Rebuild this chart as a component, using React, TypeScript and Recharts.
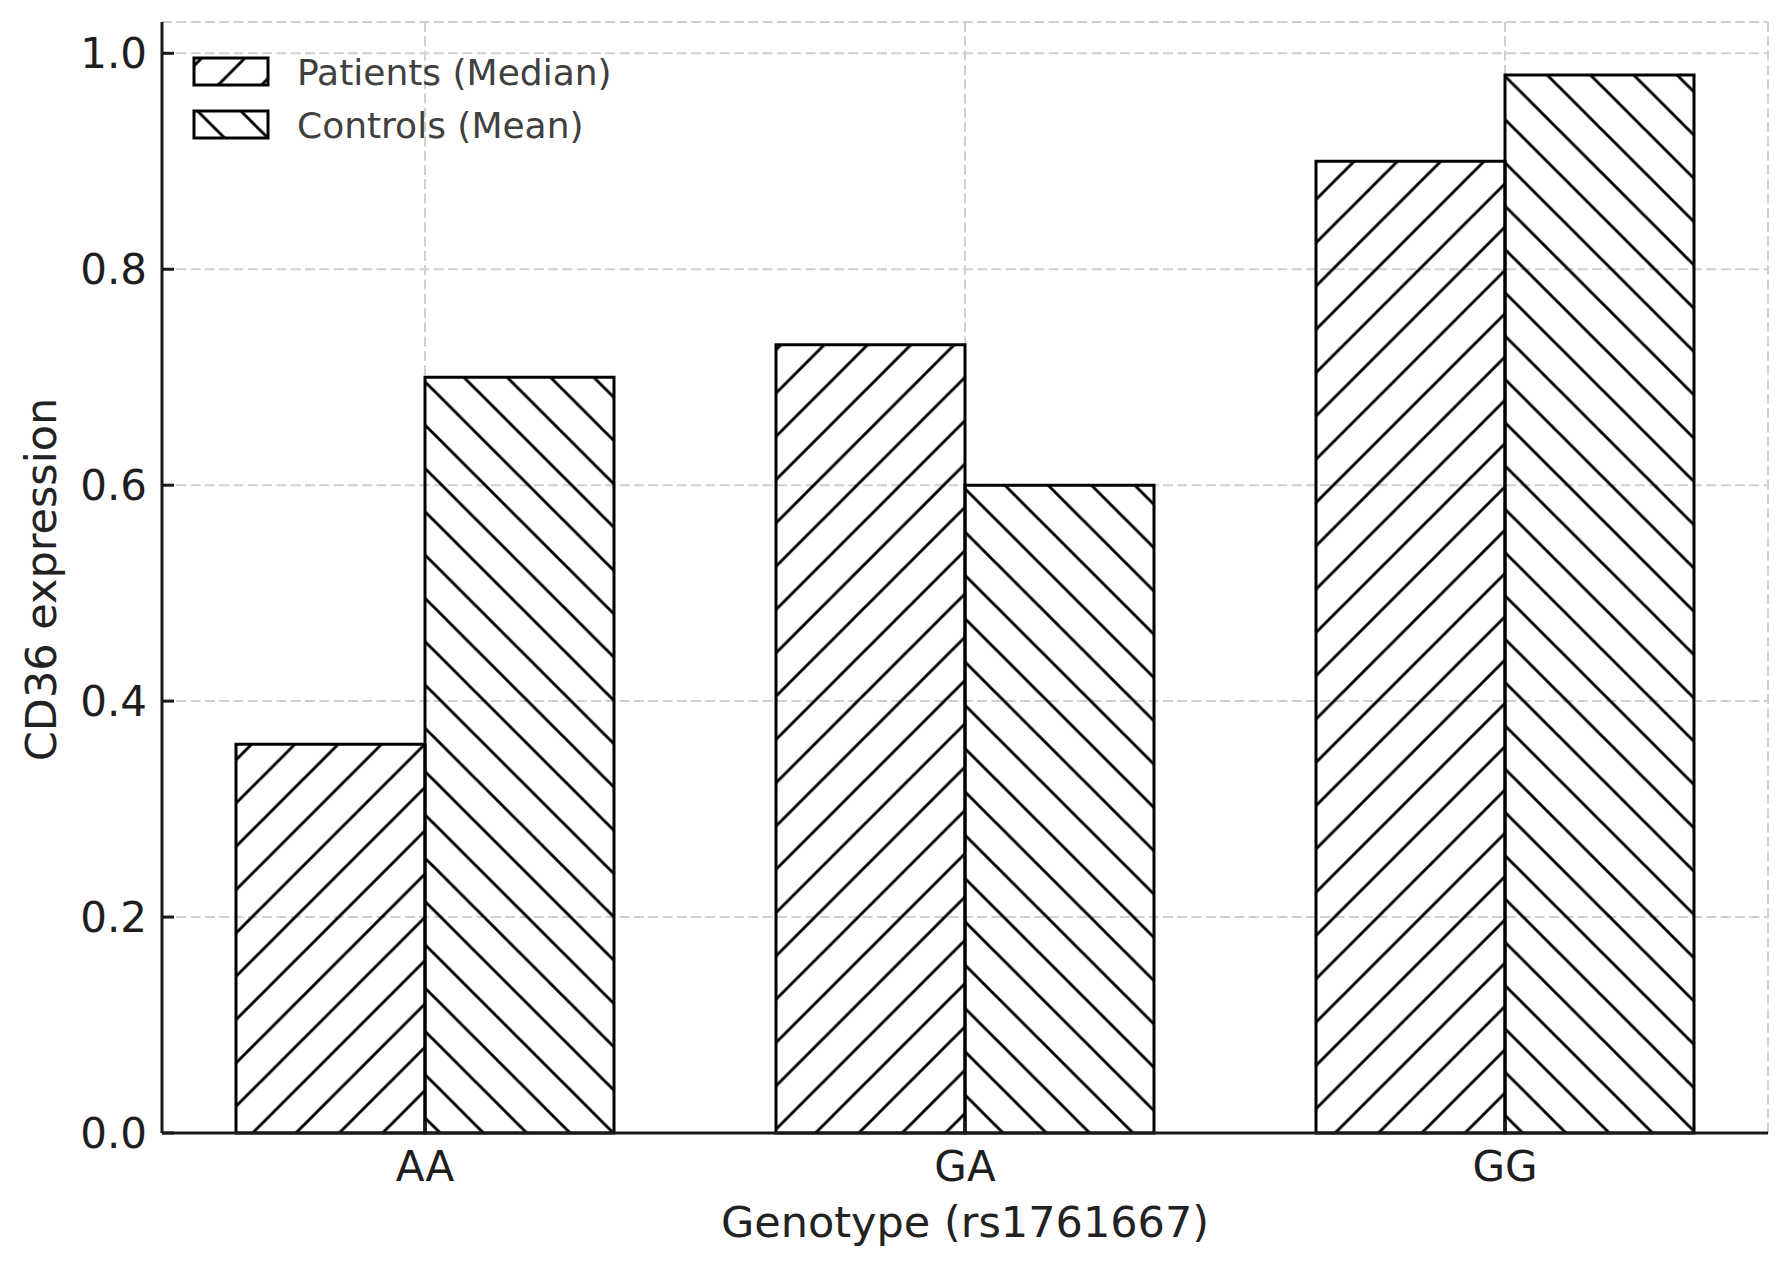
import React from 'react'
import {
  BarChart,
  Bar,
  XAxis,
  YAxis,
  CartesianGrid,
  Label,
  Customized,
} from 'recharts'

// values
const genotypes = ['AA', 'GA', 'GG']
const patientsMedian = [0.36, 0.73, 0.9]
const controlsMean = [0.7, 0.6, 0.98]
const yTicks = [0, 0.2, 0.4, 0.6, 0.8, 1.0]
const seriesKeys = ['patients', 'controls']
const seriesNames = ['Patients (Median)', 'Controls (Mean)']
const seriesHatch = ['hatchFwd', 'hatchBack']

const data = genotypes.map((g, i) => ({
  genotype: g,
  patients: patientsMedian[i],
  controls: controlsMean[i],
}))

const FONT = '"DejaVu Sans", sans-serif'
const INK = '#1a1a1a'
const HATCH = 43.3

function Hatches() {
  const p = HATCH
  return (
    <defs>
      <pattern id="hatchFwd" patternUnits="userSpaceOnUse" width={p} height={p}>
        <path
          d={`M0,${p} L${p},0 M-5,5 L5,-5 M${p - 5},${p + 5} L${p + 5},${p - 5}`}
          stroke="#000"
          strokeWidth={2.9}
        />
      </pattern>
      <pattern id="hatchBack" patternUnits="userSpaceOnUse" width={p} height={p}>
        <path
          d={`M0,0 L${p},${p} M-5,${p - 5} L5,${p + 5} M${p - 5},-5 L${p + 5},5`}
          stroke="#000"
          strokeWidth={2.9}
        />
      </pattern>
    </defs>
  )
}

function HatchLegend() {
  return (
    <g>
      {seriesNames.map((name, i) => (
        <g key={name}>
          <rect
            x={194}
            y={58 + i * 53}
            width={74}
            height={27}
            fill={`url(#${seriesHatch[i]})`}
            stroke="#000"
            strokeWidth={3}
          />
          <text x={297} y={85 + i * 53} fontSize={36} fontFamily={FONT} fill="#404040">
            {name}
          </text>
        </g>
      ))}
    </g>
  )
}

function YTitle(props: any) {
  const { viewBox } = props
  const cx = 56
  const cy = viewBox.y + viewBox.height / 2 + 2
  return (
    <text
      x={cx}
      y={cy}
      transform={`rotate(-90 ${cx} ${cy})`}
      textAnchor="middle"
      fontSize={43}
      fontFamily={FONT}
      fill="#222"
    >
      CD36 expression
    </text>
  )
}

function XTitle(props: any) {
  const { viewBox } = props
  return (
    <text
      x={viewBox.x + viewBox.width / 2}
      y={viewBox.y + 104}
      textAnchor="middle"
      fontSize={43}
      fontFamily={FONT}
      fill="#222"
    >
      Genotype (rs1761667)
    </text>
  )
}

export default function App() {
  return (
    <div style={{ position: 'absolute', left: 0, top: 0, width: 1790, height: 1262, background: '#fff' }}>
      <BarChart
        width={1790}
        height={1262}
        data={data}
        margin={{ top: 22, right: 22, bottom: 0, left: 0 }}
        barGap={0}
      >
        <Hatches />
        <XAxis
          dataKey="genotype"
          height={129}
          padding={{ left: -7, right: -7 }}
          axisLine={{ stroke: INK, strokeWidth: 3 }}
          tickLine={{ stroke: INK, strokeWidth: 3 }}
          tickSize={-12}
          tickMargin={30}
          tick={{ fontSize: 42, fill: '#1e1e1e', fontFamily: FONT }}
        >
          <Label content={<XTitle />} />
        </XAxis>
        <YAxis
          width={162}
          domain={[0, 1.029]}
          ticks={yTicks}
          tickFormatter={(v: number) => v.toFixed(1)}
          axisLine={{ stroke: INK, strokeWidth: 3 }}
          tickLine={{ stroke: INK, strokeWidth: 3 }}
          tickSize={-12}
          tickMargin={27}
          tick={{ fontSize: 42, fill: '#1e1e1e', fontFamily: FONT }}
        >
          <Label content={<YTitle />} />
        </YAxis>
        {seriesKeys.map((k, i) => (
          <Bar
            key={k}
            dataKey={k}
            name={seriesNames[i]}
            fill={`url(#${seriesHatch[i]})`}
            stroke="#000"
            strokeWidth={3}
            barSize={189}
            isAnimationActive={false}
          />
        ))}
        <CartesianGrid stroke="#cfcfcf" strokeWidth={2} strokeDasharray="10 4.3" />
        <Customized component={<HatchLegend />} />
      </BarChart>
    </div>
  )
}
